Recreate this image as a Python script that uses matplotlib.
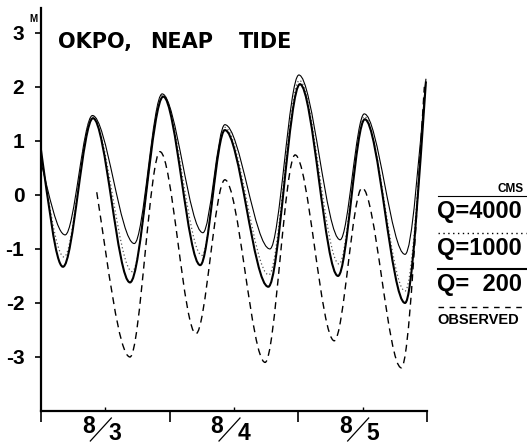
import matplotlib
matplotlib.use("Agg")
import matplotlib.pyplot as plt
from matplotlib.path import Path
from matplotlib.patches import PathPatch
from matplotlib.lines import Line2D

plt.rcParams["axes.unicode_minus"] = False

# Turning points of each tide curve.
# Hours counted from 8/3 00h, water level in metres.
Q4000_HRS = [0, 4.5, 9.6, 17.4, 22.6, 30.2, 34.3, 42.7, 48.1, 55.8, 60.3, 67.9, 71.8]
Q4000_LVL = [0.60, -0.74, 1.47, -0.90, 1.87, -0.70, 1.30, -1.00, 2.22, -0.83, 1.50, -1.10, 2.15]

Q1000_HRS = [0, 4.3, 9.6, 17.0, 22.7, 30.0, 34.3, 42.5, 48.2, 55.6, 60.3, 67.9, 71.8]
Q1000_LVL = [0.75, -1.15, 1.45, -1.42, 1.85, -1.12, 1.25, -1.48, 2.12, -1.28, 1.45, -1.78, 2.12]

Q200_HRS = [0, 4.1, 9.7, 16.6, 22.8, 29.7, 34.3, 42.4, 48.3, 55.4, 60.4, 67.9, 71.8]
Q200_LVL = [0.83, -1.33, 1.42, -1.62, 1.82, -1.30, 1.20, -1.70, 2.05, -1.50, 1.40, -2.00, 2.10]

OBS_HRS = [10.4, 16.6, 22.2, 28.9, 34.3, 41.8, 47.4, 54.7, 59.9, 67.2, 71.5]
OBS_LVL = [0.05, -3.00, 0.80, -2.57, 0.28, -3.10, 0.74, -2.70, 0.13, -3.20, 2.00]

DAYS = ["3", "4", "5"]
YTICKS = [-3, -2, -1, 0, 1, 2, 3]
YTICK_LABELS = ["-3", "-2", "-1", "0", "1", "2", "3"]

W, H = 527, 445
BOLD = dict(family="Liberation Sans", fontweight="bold", color="black")
WIDE = dict(family="DejaVu Sans", fontweight="bold", color="black")


def tide_path(hrs, lvl, k=1.3):
    """Smooth tide curve through the turning points (flat at highs/lows)."""
    n = len(hrs)

    def slope(i):
        if i == 0:
            return k * (lvl[1] - lvl[0]) / (hrs[1] - hrs[0])
        if i == n - 1:
            return k * (lvl[-1] - lvl[-2]) / (hrs[-1] - hrs[-2])
        return 0.0

    verts = [(hrs[0], lvl[0])]
    codes = [Path.MOVETO]
    for i in range(n - 1):
        dt = hrs[i + 1] - hrs[i]
        verts += [(hrs[i] + dt / 3, lvl[i] + slope(i) * dt / 3),
                  (hrs[i + 1] - dt / 3, lvl[i + 1] - slope(i + 1) * dt / 3),
                  (hrs[i + 1], lvl[i + 1])]
        codes += [Path.CURVE4] * 3
    return Path(verts, codes)


def fx(px):
    return px / W


def fy(py):
    return 1 - py / H


fig = plt.figure(figsize=(W / 100, H / 100), dpi=100)
ax = fig.add_axes([fx(41), fy(411), fx(427) - fx(41), fy(8) - fy(411)])
ax.set_xlim(0, 72)
ax.set_ylim(-4.0, 3.46)

ax.add_patch(PathPatch(tide_path(Q4000_HRS, Q4000_LVL), fill=False,
                       lw=0.8, color="black"))
ax.add_patch(PathPatch(tide_path(Q1000_HRS, Q1000_LVL), fill=False,
                       lw=0.9, color="#555555", linestyle=(0, (1, 2))))
ax.add_patch(PathPatch(tide_path(Q200_HRS, Q200_LVL), fill=False,
                       lw=1.5, color="black"))
ax.add_patch(PathPatch(tide_path(OBS_HRS, OBS_LVL), fill=False,
                       lw=1.0, color="black", linestyle=(0, (5, 3.5))))

for sp in ["top", "right"]:
    ax.spines[sp].set_visible(False)
for sp in ["left", "bottom"]:
    ax.spines[sp].set_linewidth(1.6)

ax.set_xticks([0, 24, 48, 72])
ax.set_xticklabels([])
ax.set_xticks([12, 36, 60], minor=True)
ax.tick_params(axis="x", which="major", direction="out", length=8, width=1.2)
ax.tick_params(axis="x", which="minor", direction="in", length=3, width=1.0)
ax.set_yticks(YTICKS)
ax.set_yticklabels(YTICK_LABELS)
ax.tick_params(axis="y", direction="out", length=4, width=1.2, pad=8)
for lab in ax.get_yticklabels():
    lab.set_fontproperties(dict(family="Liberation Sans", weight="bold", size=15))

# day labels drawn as 8/3 style fractions
for i, d in enumerate(DAYS):
    xc = fx(41 + (12 + 24 * i) * 386 / 72)
    fig.text(xc - fx(17), fy(433), "8", fontsize=16.5, ha="center", va="baseline", **BOLD)
    fig.add_artist(Line2D([xc - fx(15), xc + fx(6)], [fy(441), fy(418)],
                          color="black", lw=0.9))
    fig.text(xc + fx(10), fy(440), d, fontsize=16.5, ha="center", va="baseline", **BOLD)

fig.text(fx(29), fy(22), "M", fontsize=7, ha="left", va="baseline", **BOLD)
fig.text(fx(58), fy(48), "OKPO,", fontsize=15, ha="left", va="baseline", **WIDE)
fig.text(fx(150), fy(48), "NEAP", fontsize=15, ha="left", va="baseline", **WIDE)
fig.text(fx(239), fy(48), "TIDE", fontsize=15, ha="left", va="baseline", **WIDE)

# legend on the right margin
fig.text(fx(524), fy(192), "CMS", fontsize=8.5, ha="right", va="baseline", **BOLD)
fig.add_artist(Line2D([fx(438), fx(526)], [fy(196), fy(196)], color="black", lw=0.8))
fig.text(fx(437), fy(218), "Q=4000", fontsize=17, ha="left", va="baseline", **BOLD)
fig.add_artist(Line2D([fx(438), fx(526)], [fy(233), fy(233)], color="black",
                      lw=1.0, linestyle=(0, (1, 2.5))))
fig.text(fx(437), fy(255), "Q=1000", fontsize=17, ha="left", va="baseline", **BOLD)
fig.add_artist(Line2D([fx(438), fx(526)], [fy(269), fy(269)], color="black", lw=1.5))
fig.text(fx(437), fy(291), "Q=  200", fontsize=17, ha="left", va="baseline", **BOLD)
fig.add_artist(Line2D([fx(438), fx(526)], [fy(307), fy(307)], color="black",
                      lw=1.0, linestyle=(0, (4, 4))))
fig.text(fx(437), fy(324), "OBSERVED", fontsize=10.5, ha="left", va="baseline", **BOLD)

fig.savefig("out.png", dpi=100)
